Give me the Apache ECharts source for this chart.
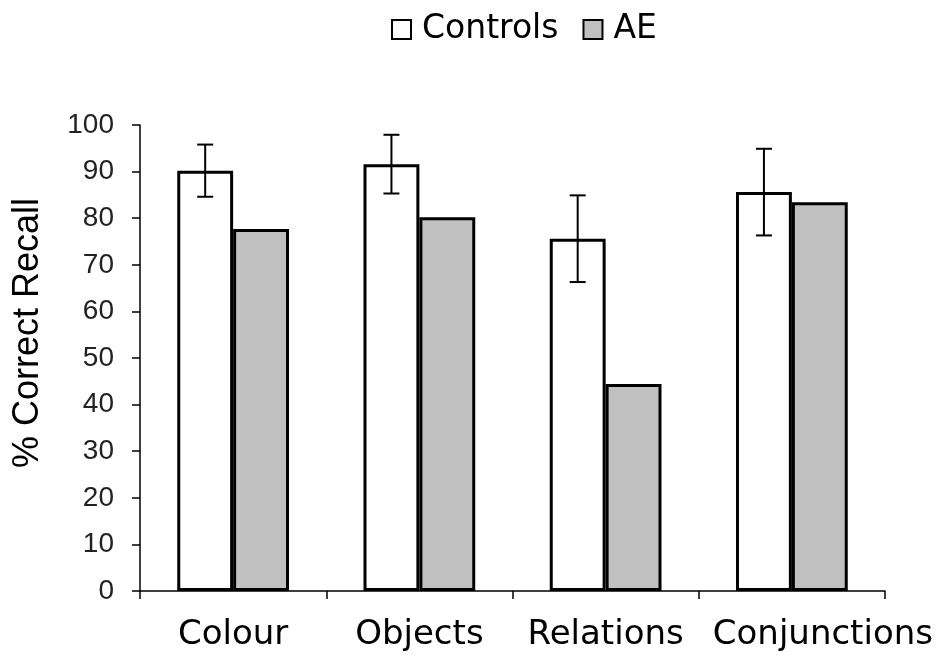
<!DOCTYPE html>
<html><head><meta charset="utf-8">
<script src="https://cdn.jsdelivr.net/npm/echarts@6/dist/echarts.min.js"></script>
<style>html,body{margin:0;padding:0;background:#fff}#c{width:941px;height:664px}</style>
</head><body><div id="c"></div>
<script>
const categories = ['Colour', 'Objects', 'Relations', 'Conjunctions'];
const controls = [90.2, 91.6, 75.6, 85.6];
const ae = [77.7, 80.2, 44.4, 83.4];
const controlsErr = [5.6, 6.3, 9.3, 9.3];
const yTicks = [0, 10, 20, 30, 40, 50, 60, 70, 80, 90, 100];

const chart = echarts.init(document.getElementById('c'));
const errData = controls.map((v, i) => [i, v - controlsErr[i], v + controlsErr[i]]);
const catGap = 0.40;
chart.setOption({
  animation: false,
  legend: {
    top: 8, left: 386, icon: 'rect', itemWidth: 19, itemHeight: 19, itemGap: 24,
    textStyle: {fontFamily: 'DejaVu Sans', fontSize: 33, color: '#000', padding: [0, 0, 0, 6]},
    itemStyle: {borderColor: '#000', borderWidth: 2},
    data: ['Controls', 'AE']
  },
  grid: {left: 140, right: 56, top: 125, bottom: 73},
  xAxis: {
    type: 'category',
    data: categories.map((c, i) => i === categories.length - 1
      ? {value: c, textStyle: {padding: [0, 0, 0, 62]}} : c),
    axisLine: {lineStyle: {color: '#000', width: 1.5}},
    axisTick: {show: true, interval: 0, length: 8, lineStyle: {color: '#000', width: 1.5}},
    axisLabel: {interval: 0, margin: 27, fontFamily: 'DejaVu Sans', fontSize: 34, color: '#000'}
  },
  yAxis: {
    type: 'value', min: 0, max: 100, interval: 10,
    name: '% Correct Recall', nameLocation: 'middle', nameGap: 94,
    nameTextStyle: {fontFamily: 'Liberation Sans', fontSize: 36, color: '#000', padding: [0, 0, 0, 50]},
    splitLine: {show: false},
    axisLine: {show: true, lineStyle: {color: '#000', width: 1.5}},
    axisTick: {show: true, inside: false, length: 8, lineStyle: {color: '#000', width: 1.5}},
    axisLabel: {margin: 26, fontFamily: 'Liberation Sans', fontSize: 28, color: '#222',
      formatter: v => yTicks.includes(v) ? String(v) : ''}
  },
  series: [
    {name: 'Controls', type: 'bar', data: controls, barGap: '0%', barCategoryGap: (catGap * 100) + '%',
     itemStyle: {color: '#fff', borderColor: '#000', borderWidth: 3}},
    {name: 'AE', type: 'bar', data: ae,
     itemStyle: {color: '#c0c0c0', borderColor: '#000', borderWidth: 3}},
    {name: 'err', type: 'custom', data: errData, z: 10,
     renderItem: (params, api) => {
       const xi = api.value(0);
       const lo = api.coord([xi, api.value(1)]);
       const hi = api.coord([xi, api.value(2)]);
       const bw = api.size([1, 0])[0];
       const x = lo[0] - bw * (1 - catGap) / 4;
       const cap = 8;
       const st = {stroke: '#000', lineWidth: 2};
       return {type: 'group', children: [
         {type: 'line', shape: {x1: x, y1: lo[1], x2: x, y2: hi[1]}, style: st},
         {type: 'line', shape: {x1: x - cap, y1: lo[1], x2: x + cap, y2: lo[1]}, style: st},
         {type: 'line', shape: {x1: x - cap, y1: hi[1], x2: x + cap, y2: hi[1]}, style: st}
       ]};
     }}
  ]
});
</script></body></html>
